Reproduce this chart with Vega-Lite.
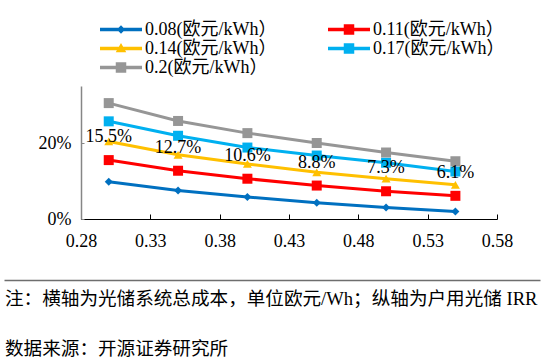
{
  "$schema": "https://vega.github.io/schema/vega-lite/v6.json",
  "width": 416,
  "height": 133,
  "autosize": {"type": "none"},
  "padding": {"left": 81, "top": 86, "right": 45, "bottom": 142},
  "background": "white",
  "config": {"view": {"stroke": null}},
  "title": {
    "text": ["注：横轴为光储系统总成本，单位欧元/Wh；纵轴为户用光储 IRR", "数据来源：开源证券研究所"],
    "orient": "bottom",
    "anchor": "start",
    "frame": "group",
    "offset": 10,
    "dx": -76,
    "lineHeight": 50,
    "font": "Liberation Serif, Noto Sans CJK SC",
    "fontSize": 18.6,
    "fontWeight": "normal",
    "color": "#000000"
  },
  "data": {
    "values": [
      {"cost": 0.30, "irr": 0.098, "series": "0.08(欧元/kWh）"},
      {"cost": 0.35, "irr": 0.075, "series": "0.08(欧元/kWh）"},
      {"cost": 0.40, "irr": 0.058, "series": "0.08(欧元/kWh）"},
      {"cost": 0.45, "irr": 0.043, "series": "0.08(欧元/kWh）"},
      {"cost": 0.50, "irr": 0.030, "series": "0.08(欧元/kWh）"},
      {"cost": 0.55, "irr": 0.020, "series": "0.08(欧元/kWh）"},
      {"cost": 0.30, "irr": 0.155, "series": "0.11(欧元/kWh）"},
      {"cost": 0.35, "irr": 0.127, "series": "0.11(欧元/kWh）"},
      {"cost": 0.40, "irr": 0.106, "series": "0.11(欧元/kWh）"},
      {"cost": 0.45, "irr": 0.088, "series": "0.11(欧元/kWh）"},
      {"cost": 0.50, "irr": 0.073, "series": "0.11(欧元/kWh）"},
      {"cost": 0.55, "irr": 0.061, "series": "0.11(欧元/kWh）"},
      {"cost": 0.30, "irr": 0.204, "series": "0.14(欧元/kWh）"},
      {"cost": 0.35, "irr": 0.169, "series": "0.14(欧元/kWh）"},
      {"cost": 0.40, "irr": 0.145, "series": "0.14(欧元/kWh）"},
      {"cost": 0.45, "irr": 0.123, "series": "0.14(欧元/kWh）"},
      {"cost": 0.50, "irr": 0.106, "series": "0.14(欧元/kWh）"},
      {"cost": 0.55, "irr": 0.090, "series": "0.14(欧元/kWh）"},
      {"cost": 0.30, "irr": 0.257, "series": "0.17(欧元/kWh）"},
      {"cost": 0.35, "irr": 0.219, "series": "0.17(欧元/kWh）"},
      {"cost": 0.40, "irr": 0.188, "series": "0.17(欧元/kWh）"},
      {"cost": 0.45, "irr": 0.167, "series": "0.17(欧元/kWh）"},
      {"cost": 0.50, "irr": 0.148, "series": "0.17(欧元/kWh）"},
      {"cost": 0.55, "irr": 0.125, "series": "0.17(欧元/kWh）"},
      {"cost": 0.30, "irr": 0.305, "series": "0.2(欧元/kWh）"},
      {"cost": 0.35, "irr": 0.258, "series": "0.2(欧元/kWh）"},
      {"cost": 0.40, "irr": 0.226, "series": "0.2(欧元/kWh）"},
      {"cost": 0.45, "irr": 0.200, "series": "0.2(欧元/kWh）"},
      {"cost": 0.50, "irr": 0.175, "series": "0.2(欧元/kWh）"},
      {"cost": 0.55, "irr": 0.152, "series": "0.2(欧元/kWh）"}
    ]
  },
  "resolve": {
    "scale": {"x": "independent", "color": "independent", "shape": "independent"},
    "axis": {"x": "independent"},
    "legend": {"color": "independent", "shape": "independent"}
  },
  "layer": [
    {
      "encoding": {
        "x": {
          "field": "cost", "type": "quantitative",
          "scale": {"domain": [0.28, 0.58], "nice": false, "zero": false},
          "axis": {
            "orient": "bottom",
            "values": [0.28, 0.33, 0.38, 0.43, 0.48, 0.53, 0.58],
            "format": ".2f",
            "title": null,
            "grid": false,
            "domainColor": "#000000",
            "domainWidth": 1,
            "tickColor": "#000000",
            "tickSize": -5,
            "labelFont": "Liberation Serif",
            "labelFontSize": 18,
            "labelColor": "#000000",
            "labelPadding": 18,
            "labelFlush": false
          }
        },
        "y": {
          "field": "irr", "type": "quantitative",
          "scale": {"domain": [0, 0.35], "nice": false},
          "axis": {
            "values": [0, 0.2],
            "format": ".0%",
            "title": null,
            "grid": false,
            "domainColor": "#868686",
            "domainWidth": 1.5,
            "tickColor": "#868686",
            "tickSize": -3,
            "labelFont": "Liberation Serif",
            "labelFontSize": 18,
            "labelColor": "#000000",
            "labelPadding": 13,
            "labelFlush": false
          }
        },
        "color": {
          "field": "series", "type": "nominal",
          "scale": {
            "domain": ["0.08(欧元/kWh）", "0.11(欧元/kWh）", "0.14(欧元/kWh）", "0.17(欧元/kWh）", "0.2(欧元/kWh）"],
            "range": ["#0070C0", "#FF0000", "#FFC000", "#00B0F0", "#969696"]
          },
          "legend": null
        }
      },
      "layer": [
        {"mark": {"type": "line", "strokeWidth": 3}},
        {
          "transform": [{"filter": {"field": "series", "oneOf": ["0.11(欧元/kWh）", "0.17(欧元/kWh）", "0.2(欧元/kWh）"]}}],
          "mark": {"type": "point", "shape": "square", "filled": true, "opacity": 1, "size": 100}
        },
        {
          "transform": [{"filter": {"field": "series", "equal": "0.08(欧元/kWh）"}}],
          "mark": {"type": "point", "shape": "diamond", "filled": true, "opacity": 1, "size": 64}
        },
        {
          "transform": [{"filter": {"field": "series", "equal": "0.14(欧元/kWh）"}}],
          "mark": {"type": "point", "shape": "triangle-up", "filled": true, "opacity": 1, "size": 80}
        },
        {
          "transform": [{"filter": {"field": "series", "equal": "0.11(欧元/kWh）"}}],
          "mark": {"type": "text", "dy": -23, "baseline": "middle", "align": "center", "font": "Liberation Serif", "fontSize": 18, "color": "#000000"},
          "encoding": {
            "text": {"field": "irr", "type": "quantitative", "format": ".1%"},
            "color": {"value": "#000000"}
          }
        }
      ]
    },
    {
      "transform": [{"filter": {"field": "cost", "gt": 5}}],
      "mark": {"type": "point", "filled": true, "opacity": 1},
      "encoding": {
        "x": {
          "field": "cost", "type": "quantitative",
          "scale": {"domain": [0, 1], "range": [-77, 459], "nice": false, "zero": false},
          "axis": {
            "orient": "bottom",
            "offset": 61,
            "title": null,
            "grid": false,
            "ticks": false,
            "labels": false,
            "domainColor": "#6e6e6e",
            "domainWidth": 1.5
          }
        },
        "color": {
          "field": "series", "type": "nominal",
          "scale": {
            "domain": ["0.08(欧元/kWh）", "0.11(欧元/kWh）", "0.14(欧元/kWh）", "0.17(欧元/kWh）", "0.2(欧元/kWh）"],
            "range": ["#0070C0", "#FF0000", "#FFC000", "#00B0F0", "#969696"]
          },
          "legend": {
            "orient": "none",
            "direction": "horizontal",
            "legendX": 19,
            "legendY": -66,
            "columns": 2,
            "columnPadding": 51,
            "rowPadding": 0,
            "clipHeight": 19,
            "padding": 0,
            "title": null,
            "symbolSize": 1764,
            "symbolStrokeWidth": 0,
            "symbolOpacity": 1,
            "labelFont": "Liberation Serif, Noto Sans CJK SC",
            "labelFontSize": 18,
            "labelColor": "#000000",
            "labelOffset": 3,
            "labelLimit": 400
          }
        },
        "shape": {
          "field": "series", "type": "nominal",
          "scale": {
            "domain": ["0.08(欧元/kWh）", "0.11(欧元/kWh）", "0.14(欧元/kWh）", "0.17(欧元/kWh）", "0.2(欧元/kWh）"],
            "range": [
              "M-1,-0.08L1,-0.08L1,0.08L-1,0.08Z M0,-0.2L0.2,0L0,0.2L-0.2,0Z",
              "M-1,-0.08L1,-0.08L1,0.08L-1,0.08Z M-0.25,-0.25L0.25,-0.25L0.25,0.25L-0.25,0.25Z",
              "M-1,-0.08L1,-0.08L1,0.08L-1,0.08Z M0,-0.26L0.25,0.18L-0.25,0.18Z",
              "M-1,-0.08L1,-0.08L1,0.08L-1,0.08Z M-0.25,-0.25L0.25,-0.25L0.25,0.25L-0.25,0.25Z",
              "M-1,-0.08L1,-0.08L1,0.08L-1,0.08Z M-0.25,-0.25L0.25,-0.25L0.25,0.25L-0.25,0.25Z"
            ]
          },
          "legend": {
            "orient": "none",
            "direction": "horizontal",
            "legendX": 19,
            "legendY": -66,
            "columns": 2,
            "columnPadding": 51,
            "rowPadding": 0,
            "clipHeight": 19,
            "padding": 0,
            "title": null,
            "symbolSize": 1764,
            "symbolStrokeWidth": 0,
            "symbolOpacity": 1,
            "labelFont": "Liberation Serif, Noto Sans CJK SC",
            "labelFontSize": 18,
            "labelColor": "#000000",
            "labelOffset": 3,
            "labelLimit": 400
          }
        }
      }
    }
  ]
}
